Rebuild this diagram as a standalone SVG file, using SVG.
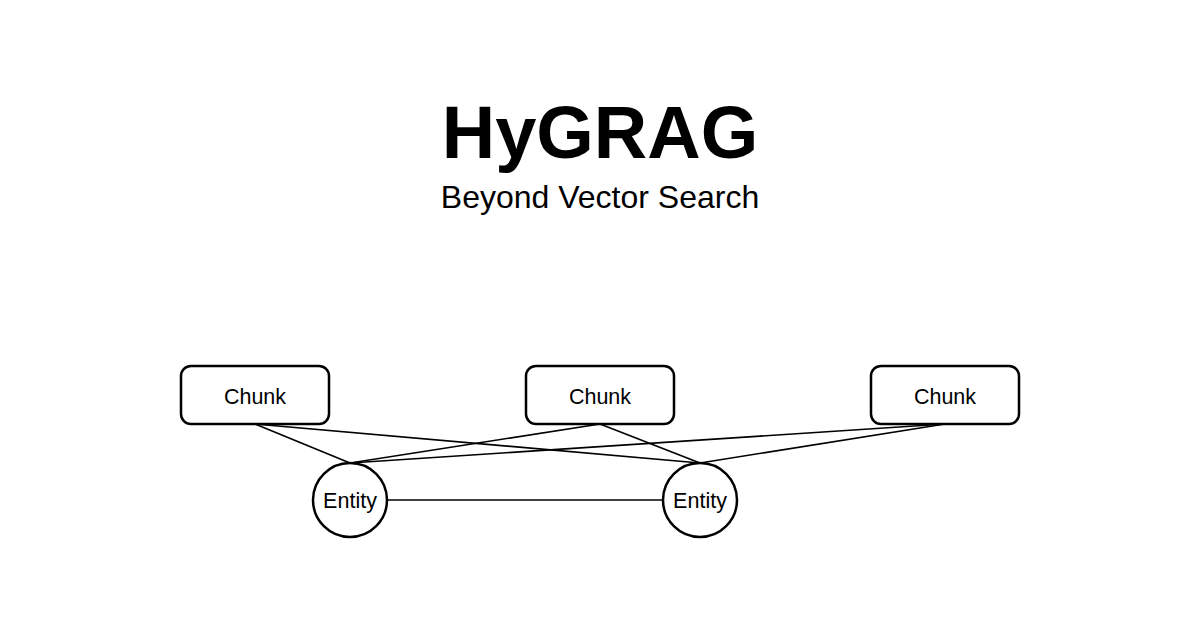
<svg xmlns="http://www.w3.org/2000/svg" width="1200" height="630" viewBox="0 0 1200 630">
<style>
text{font-family:"Liberation Sans",Arial,sans-serif;fill:#000;text-anchor:middle}
.box{fill:#fff;stroke:#000;stroke-width:2.5}
.lbl{font-size:21.5px}
.edge{stroke:#000;stroke-width:1.6;fill:none}
</style>
<rect width="1200" height="630" fill="#fff"/>
<text x="600" y="158" font-size="74" font-weight="bold">HyGRAG</text>
<text x="600" y="208" font-size="32">Beyond Vector Search</text>
<g id="connectors">
<line class="edge" x1="255" y1="424" x2="350" y2="463"/>
<line class="edge" x1="255" y1="424" x2="700" y2="463"/>
<line class="edge" x1="600" y1="424" x2="350" y2="463"/>
<line class="edge" x1="600" y1="424" x2="700" y2="463"/>
<line class="edge" x1="945" y1="424" x2="350" y2="463"/>
<line class="edge" x1="945" y1="424" x2="700" y2="463"/>
<line class="edge" x1="387" y1="500" x2="663" y2="500"/>
</g>
<g id="chunk1"><rect class="box" x="181" y="366" width="148" height="58" rx="10"/><text class="lbl" x="255" y="404">Chunk</text></g>
<g id="chunk2"><rect class="box" x="526" y="366" width="148" height="58" rx="10"/><text class="lbl" x="600" y="404">Chunk</text></g>
<g id="chunk3"><rect class="box" x="871" y="366" width="148" height="58" rx="10"/><text class="lbl" x="945" y="404">Chunk</text></g>
<g id="entity1"><circle class="box" cx="350" cy="500" r="37"/><text class="lbl" x="350" y="508">Entity</text></g>
<g id="entity2"><circle class="box" cx="700" cy="500" r="37"/><text class="lbl" x="700" y="508">Entity</text></g>
</svg>
